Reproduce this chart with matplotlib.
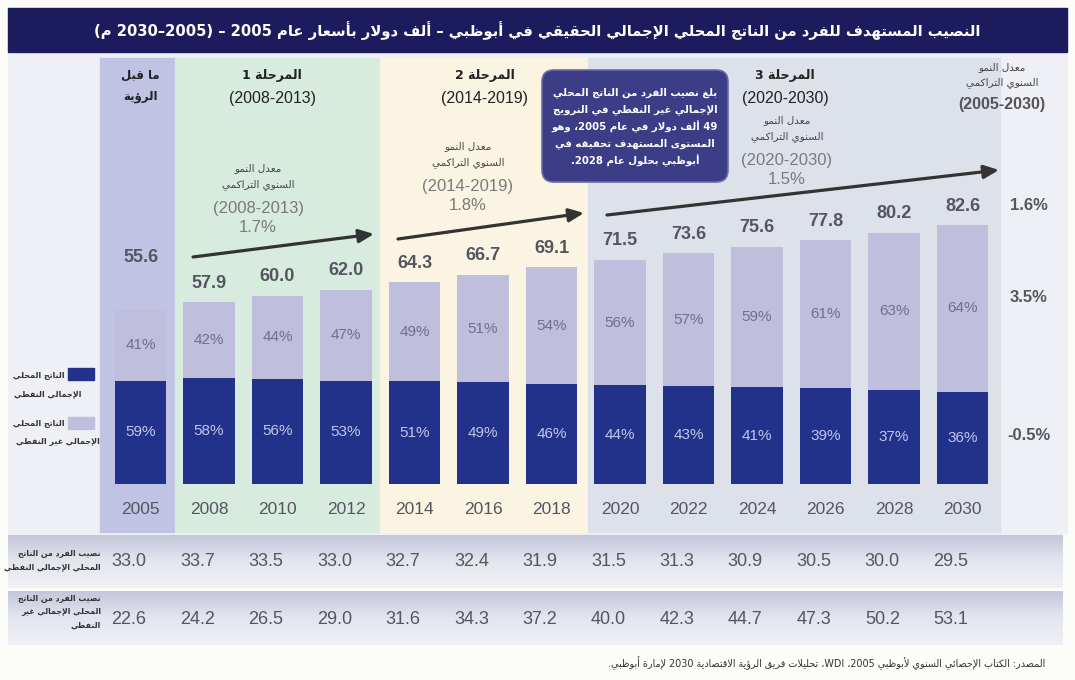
import re
import numpy as np
import matplotlib
matplotlib.use("Agg")
import matplotlib.pyplot as plt
import matplotlib.transforms as mtransforms
from matplotlib.patches import Rectangle, FancyBboxPatch
from matplotlib.colors import LinearSegmentedColormap

# ---------------- data ----------------
years = ["2005", "2008", "2010", "2012", "2014", "2016", "2018",
         "2020", "2022", "2024", "2026", "2028", "2030"]
oil = [33.0, 33.7, 33.5, 33.0, 32.7, 32.4, 31.9, 31.5, 31.3, 30.9, 30.5, 30.0, 29.5]
nonoil = [22.6, 24.2, 26.5, 29.0, 31.6, 34.3, 37.2, 40.0, 42.3, 44.7, 47.3, 50.2, 53.1]
totals = [55.6, 57.9, 60.0, 62.0, 64.3, 66.7, 69.1, 71.5, 73.6, 75.6, 77.8, 80.2, 82.6]
oil_pct = [59, 58, 56, 53, 51, 49, 46, 44, 43, 41, 39, 37, 36]
nonoil_pct = [41, 42, 44, 47, 49, 51, 54, 56, 57, 59, 61, 63, 64]

phase_names = ["المرحلة 1", "المرحلة 2", "المرحلة 3"]
phase_periods = ["(2008-2013)", "(2014-2019)", "(2020-2030)"]
phase_rates = ["1.7%", "1.8%", "1.5%"]
overall_rates = ["1.6%", "3.5%", "-0.5%"]   # total, non-oil, oil (2005-2030)

title = "النصيب المستهدف للفرد من الناتج المحلي الإجمالي الحقيقي في أبوظبي – ألف دولار بأسعار عام 2005 – (2005–2030 م)"
callout = ["بلغ نصيب الفرد من الناتج المحلي",
           "الإجمالي غير النفطي في النرويج",
           "49 ألف دولار في عام 2005، وهو",
           "المستوى المستهدف تحقيقه في",
           "أبوظبي بحلول عام 2028."]
source = "المصدر: الكتاب الإحصائي السنوي لأبوظبي 2005، WDI، تحليلات فريق الرؤية الاقتصادية 2030 لإمارة أبوظبي."

# ------------- minimal arabic shaping + rtl ordering -------------
AR_LETTERS = "ءآأؤإئابةتثجحخدذرزسشصضطظعغفقكلمنهوىي"
AR_NFORMS = "122224242" + "44444" + "2222" + "4" * 15 + "224"
FORMS = {}
code = 0xFE80
for ch, k in zip(AR_LETTERS, AR_NFORMS):
    FORMS[ch] = (code, int(k))
    code += int(k)
LAMALEF = {"آ": 0xFEF5, "أ": 0xFEF7, "إ": 0xFEF9, "ا": 0xFEFB}
MIRROR = {"(": ")", ")": "("}


def shape(s):
    out = []
    i = 0
    while i < len(s):
        c = s[i]
        if c not in FORMS:
            out.append(c)
            i += 1
            continue
        prev = s[i - 1] if i > 0 else ""
        jp = prev in FORMS and FORMS[prev][1] == 4
        if c == "ل" and i + 1 < len(s) and s[i + 1] in LAMALEF:
            out.append(chr(LAMALEF[s[i + 1]] + (1 if jp else 0)))
            i += 2
            continue
        nxt = s[i + 1] if i + 1 < len(s) else ""
        base, k = FORMS[c]
        jn = k == 4 and nxt in FORMS and nxt != "ء"
        if k == 1:
            out.append(chr(base))
        elif jp and jn:
            out.append(chr(base + 3))
        elif jp:
            out.append(chr(base + 1))
        elif jn:
            out.append(chr(base + 2))
        else:
            out.append(chr(base))
        i += 1
    return "".join(out)


def ar(s):
    lines = []
    for line in s.split("\n"):
        toks = re.findall(r"[A-Za-z0-9]+(?:[.\-][A-Za-z0-9]+)*%?|.", shape(line))
        lines.append("".join(MIRROR.get(t, t) for t in reversed(toks)))
    return "\n".join(lines)


AF = "DejaVu Sans"
NF = ["Liberation Sans Narrow", "Liberation Sans", "DejaVu Sans"]
NF2 = ["Liberation Sans", "DejaVu Sans"]

navy = "#22318a"
lav = "#bfbedd"
numgray = "#55555f"

# ---------------- figure ----------------
fig = plt.figure(figsize=(10.75, 6.8), dpi=100)
fig.patch.set_facecolor("#fcfcf8")
bg = fig.add_axes([0, 0, 1, 1])
bg.axis("off")

# title bar
bg.add_patch(Rectangle((8, 8), 1059, 44, color="#1c1b5e", zorder=1))
bg.text(537, 31, ar(title), color="white", fontsize=10.6, fontweight="bold",
        ha="center", va="center", family=AF, zorder=2)

# main panel and phase bands
bg.add_patch(Rectangle((8, 54), 1059, 480, color="#eef0f5", zorder=0))
bands = [(100, 175, "#c1c3e4"), (175, 380, "#d7ebde"),
         (380, 588, "#fcf4e3"), (588, 1000, "#dde2ea")]
for x0, x1, c in bands:
    bg.add_patch(Rectangle((x0, 58), x1 - x0, 474, color=c, zorder=0))

# table row backgrounds (gradient)
tcmap = LinearSegmentedColormap.from_list("row", ["#c4c6da", "#e4e6ef", "#eff1f6"])
grad = np.linspace(0, 1, 60).reshape(-1, 1)
for y0, y1 in [(535, 588), (591, 645)]:
    bg.imshow(grad, cmap=tcmap, extent=(8, 1063, y1, y0), aspect="auto",
              origin="upper", zorder=1)

bg.set_xlim(0, 1075)
bg.set_ylim(680, 0)

# source line
bg.text(1045, 663, ar(source), ha="right", va="center", fontsize=6.9,
        color="#333333", family=AF)

# legend
bg.add_patch(Rectangle((68, 368), 26, 12, color=navy, zorder=2))
bg.add_patch(Rectangle((68, 417), 26, 12, color=lav, zorder=2))
leg_kw = dict(ha="right", va="center", fontsize=5.8, fontweight="bold",
              color="#333", family=AF)
bg.text(65, 375, ar("الناتج المحلي"), **leg_kw)
bg.text(82, 394, ar("الإجمالي النفطي"), **leg_kw)
bg.text(65, 423, ar("الناتج المحلي"), **leg_kw)
bg.text(100, 442, ar("الإجمالي غير النفطي"), **leg_kw)

# table row labels
bg.text(101, 560, ar("نصيب الفرد من الناتج\nالمحلي الإجمالي النفطي"), ha="right",
        va="center", fontsize=5.6, fontweight="bold", color="#333", family=AF,
        linespacing=1.7)
bg.text(101, 612, ar("نصيب الفرد من الناتج\nالمحلي الإجمالي غير\nالنفطي"), ha="right",
        va="center", fontsize=5.6, fontweight="bold", color="#333", family=AF,
        linespacing=1.6)

# column headers
bg.text(140, 86, ar("ما قبل\nالرؤية"), ha="center", va="center", fontsize=8.5,
        fontweight="bold", color="#222", family=AF, linespacing=1.8)
phase_x = [272, 485, 785]
for px, name, per in zip(phase_x, phase_names, phase_periods):
    bg.text(px, 76, ar(name), ha="center", va="center", fontsize=9,
            fontweight="bold", color="#222", family=AF)
    bg.text(px, 99, per, ha="center", va="center", fontsize=11.5,
            color="#222", family=NF2)

# growth-rate notes per phase
note_pos = [(258, 168), (468, 146), (787, 120)]
for (nx, ny), per, rate in zip(note_pos, phase_periods, phase_rates):
    bg.text(nx, ny, ar("معدل النمو"), ha="center", va="center", fontsize=7.5,
            color="#444", family=AF)
    bg.text(nx, ny + 17, ar("السنوي التراكمي"), ha="center", va="center",
            fontsize=7.5, color="#444", family=AF)
    bg.text(nx, ny + 41, per, ha="center", va="center", fontsize=12,
            color="#7a7a7a", family=NF2)
    bg.text(nx, ny + 60, rate, ha="center", va="center", fontsize=12,
            color="#7a7a7a", family=NF2)

# overall column
bg.text(1002, 67, ar("معدل النمو"), ha="center", va="center", fontsize=7.5,
        color="#444", family=AF)
bg.text(1002, 83, ar("السنوي التراكمي"), ha="center", va="center", fontsize=7.5,
        color="#444", family=AF)
bg.text(1002, 105, "(2005-2030)", ha="center", va="center", fontsize=11.5,
        fontweight="bold", color="#555", family=NF)
for ry, r in zip([205, 297, 435], overall_rates):
    bg.text(1029, ry, r, ha="center", va="center", fontsize=12,
            fontweight="bold", color=numgray, family=NF)

# arrows
arrows = [((193, 257), (374, 234)), ((398, 239), (584, 213)), ((607, 215), (999, 170))]
for start, end in arrows:
    bg.annotate("", xy=end, xytext=start,
                arrowprops=dict(arrowstyle="-|>,head_length=0.9,head_width=0.4",
                                lw=2.3, color="#333333", shrinkA=0, shrinkB=0))

# callout box
bg.add_patch(FancyBboxPatch((548, 76), 174, 100,
                            boxstyle="round,pad=6,rounding_size=12",
                            fc="#3d3c86", ec="#6a6aa8", lw=1.2, zorder=3))
for k, line in enumerate(callout):
    bg.text(635, 93 + k * 16.8, ar(line), ha="center", va="center", fontsize=7.3,
            fontweight="bold", color="white", family=AF, zorder=4)

# ---------------- stacked bars ----------------
x = np.arange(len(years))
px_per_unit = 3.135
ax = fig.add_axes([106.25 / 1075, (680 - 484) / 680, 890.5 / 1075,
                   140 * px_per_unit / 680])
ax.set_xlim(-0.5, 12.5)
ax.set_ylim(0, 140)
ax.axis("off")
ax.patch.set_alpha(0)

ax.bar(x, oil, width=0.745, color=navy)
ax.bar(x, nonoil, width=0.745, bottom=oil, color=lav)

for i in x:
    lift = 52 if i == 0 else 19
    ax.annotate(f"{totals[i]:.1f}", (i, totals[i]), xytext=(0, lift * 0.72),
                textcoords="offset points", ha="center", va="center",
                fontsize=13, fontweight="bold", color=numgray, family=NF)
    ax.text(i, oil[i] + nonoil[i] / 2, f"{nonoil_pct[i]}%", ha="center",
            va="center", fontsize=11, color="#70708c", family=NF2)
    ax.text(i, oil[i] / 2, f"{oil_pct[i]}%", ha="center", va="center",
            fontsize=11, color="#c3c6ea", family=NF2)

# year labels and table values (x from bar axis, y in page pixels)
tr = mtransforms.blended_transform_factory(ax.transData, bg.transData)
for i in x:
    ax.text(i, 509, years[i], transform=tr, ha="center", va="center",
            fontsize=12.5, color=numgray, family=NF2)
    ax.text(i - 0.17, 562, f"{oil[i]:.1f}", transform=tr, ha="center",
            va="center", fontsize=13, color=numgray, family=NF2)
    ax.text(i - 0.17, 619, f"{nonoil[i]:.1f}", transform=tr, ha="center",
            va="center", fontsize=13, color=numgray, family=NF2)

fig.savefig("out.png", dpi=100, facecolor=fig.get_facecolor())
